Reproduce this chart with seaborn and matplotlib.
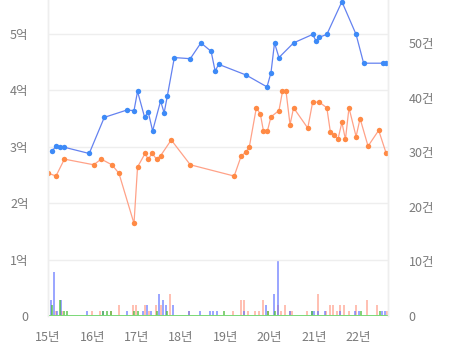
import matplotlib
matplotlib.use("Agg")
import matplotlib.pyplot as plt
import seaborn as sns
import pandas as pd
import numpy as np

# ---- data ----
blue_x = [2015.10, 2015.18, 2015.27, 2015.37, 2015.93, 2016.27, 2016.78, 2016.94, 2017.02, 2017.18,
          2017.26, 2017.36, 2017.54, 2017.62, 2017.69, 2017.85, 2018.21, 2018.45, 2018.68, 2018.77,
          2018.85, 2019.47, 2019.94, 2020.03, 2020.11, 2020.21, 2020.54, 2020.97, 2021.05, 2021.12,
          2021.29, 2021.63, 2021.95, 2022.12, 2022.55, 2022.63]
blue_y = [2.93, 3.01, 2.99, 2.99, 2.88, 3.52, 3.65, 3.64, 3.98, 3.52,
          3.62, 3.28, 3.81, 3.60, 3.89, 4.58, 4.56, 4.84, 4.69, 4.34,
          4.46, 4.27, 4.06, 4.31, 4.84, 4.58, 4.84, 4.99, 4.87, 4.94,
          4.99, 5.57, 4.99, 4.48, 4.48, 4.48]

orange_x = [2015.01, 2015.18, 2015.37, 2016.03, 2016.20, 2016.44, 2016.60, 2016.94, 2017.02, 2017.19,
            2017.26, 2017.35, 2017.45, 2017.54, 2017.78, 2018.21, 2019.20, 2019.36, 2019.46, 2019.54,
            2019.70, 2019.79, 2019.86, 2019.95, 2020.03, 2020.21, 2020.29, 2020.37, 2020.46, 2020.54,
            2020.86, 2020.97, 2021.12, 2021.29, 2021.37, 2021.46, 2021.54, 2021.63, 2021.71, 2021.79,
            2021.95, 2022.04, 2022.22, 2022.46, 2022.63]
orange_y = [2.53, 2.48, 2.78, 2.68, 2.78, 2.68, 2.53, 1.64, 2.64, 2.88,
            2.78, 2.88, 2.78, 2.84, 3.12, 2.68, 2.48, 2.84, 2.90, 2.99,
            3.69, 3.58, 3.28, 3.28, 3.53, 3.64, 3.98, 3.98, 3.39, 3.69,
            3.33, 3.79, 3.79, 3.69, 3.26, 3.20, 3.13, 3.43, 3.13, 3.69,
            3.18, 3.50, 3.01, 3.29, 2.88]

bar_blue_x = [2015.06, 2015.14, 2015.21, 2015.30, 2015.89, 2016.25, 2016.78, 2017.15, 2017.23, 2017.32,
              2017.51, 2017.59, 2017.66, 2017.83, 2018.18, 2018.42, 2018.66, 2018.73, 2018.82, 2019.43,
              2019.91, 2020.09, 2020.19, 2020.46, 2020.95, 2021.00, 2021.10, 2021.25, 2021.59, 2021.93,
              2022.02, 2022.53, 2022.61]
bar_blue_n = [3, 8, 1, 3, 1, 1, 1, 1, 2, 1,
              4, 3, 2, 2, 1, 1, 1, 1, 1, 1,
              2, 4, 10, 1, 1, 1, 1, 1, 1, 1,
              1, 1, 1]

bar_orange_x = [2015.00, 2015.18, 2015.32, 2016.00, 2016.17, 2016.42, 2016.60, 2016.91, 2016.99, 2017.18,
                2017.27, 2017.44, 2017.54, 2017.75, 2018.18, 2019.18, 2019.36, 2019.43, 2019.51, 2019.67,
                2019.75, 2019.86, 2019.97, 2020.19, 2020.26, 2020.35, 2020.46, 2020.51, 2020.85, 2021.10,
                2021.28, 2021.37, 2021.44, 2021.52, 2021.59, 2021.67, 2021.78, 2021.95, 2022.19, 2022.43,
                2022.65]
bar_orange_n = [1, 1, 1, 1, 1, 1, 2, 2, 2, 2,
                1, 2, 2, 4, 1, 1, 3, 3, 1, 1,
                1, 3, 1, 2, 1, 2, 1, 1, 1, 4,
                1, 2, 2, 1, 2, 2, 1, 2, 3, 2,
                1]

bar_green_x = [2015.09, 2015.26, 2015.35, 2015.43, 2016.25, 2016.34, 2016.42, 2016.94, 2017.02, 2017.47,
               2017.69, 2018.96, 2019.97, 2020.11, 2020.95, 2022.06, 2022.48]
bar_green_n = [2, 3, 1, 1, 1, 1, 1, 1, 1, 1,
               1, 1, 1, 1, 1, 1, 1]

year_ticks = [2015, 2016, 2017, 2018, 2019, 2020, 2021, 2022]
year_labels = ["15년", "16년", "17년", "18년", "19년", "20년", "21년", "22년"]
left_ticks = [0, 1, 2, 3, 4, 5]
left_labels = ["0", "1억", "2억", "3억", "4억", "5억"]
right_ticks = [0, 10, 20, 30, 40, 50]
right_labels = ["0", "10건", "20건", "30건", "40건", "50건"]

# ---- style ----
sns.set_theme(style="white")
plt.rcParams['font.family'] = ['Noto Sans CJK KR', 'DejaVu Sans']

fig = plt.figure(figsize=(4.52, 3.61), dpi=100)
ax = fig.add_axes([48/452, 45/361, 340/452, 316/361])
ax2 = ax.twinx()

txt = "#7a7a7a"
BW = 0.045

# bars on right axis
ax2.bar(bar_orange_x, bar_orange_n, width=BW, color="#ff9f8a", alpha=0.65, linewidth=0, zorder=1)
ax2.bar(bar_blue_x, bar_blue_n, width=BW, color="#5a6cff", alpha=0.6, linewidth=0, zorder=2)
ax2.bar(bar_green_x, bar_green_n, width=BW, color="#44bb33", alpha=0.65, linewidth=0, zorder=3)
ax2.axhline(0, color="#5fd35a", linewidth=1.4, zorder=4)

# lines on left axis
dfb = pd.DataFrame({"x": blue_x, "y": blue_y})
dfo = pd.DataFrame({"x": orange_x, "y": orange_y})
sns.lineplot(data=dfb, x="x", y="y", ax=ax, color="#6482f0", linewidth=0.9,
             marker="o", markersize=3.9, markerfacecolor="#3d8af7", markeredgewidth=0, sort=False)
sns.lineplot(data=dfo, x="x", y="y", ax=ax, color="#ffa288", linewidth=0.9,
             marker="o", markersize=3.9, markerfacecolor="#ff8a45", markeredgewidth=0, sort=False)

ax.set_zorder(ax2.get_zorder() + 1)
ax.patch.set_visible(False)

ax.set_xlim(2015.0, 2022.67)
ax.set_ylim(0, 5.6)
ax2.set_ylim(0, 57.9)

ax.set_yticks(left_ticks)
ax.set_yticklabels(left_labels)
ax2.set_yticks(right_ticks)
ax2.set_yticklabels(right_labels)
ax.set_xticks(year_ticks)
ax.set_xticklabels(year_labels)

for a in (ax, ax2):
    a.tick_params(length=0, labelsize=9, labelcolor=txt)
    a.set_xlabel("")
    a.set_ylabel("")
ax.tick_params(axis="y", pad=14)
ax.tick_params(axis="x", pad=11)
ax2.tick_params(axis="y", pad=15)

ax.grid(axis="y", color="#eeeeee", linewidth=1)
ax.grid(axis="x", visible=False)
ax2.grid(False)

for a in (ax, ax2):
    for s in ["top", "bottom"]:
        a.spines[s].set_visible(False)
    a.spines["left"].set_color("#eeeeee")
    a.spines["right"].set_color("#eeeeee")
    a.spines["left"].set_linewidth(1)
    a.spines["right"].set_linewidth(1)

fig.savefig("out.png", dpi=100)
